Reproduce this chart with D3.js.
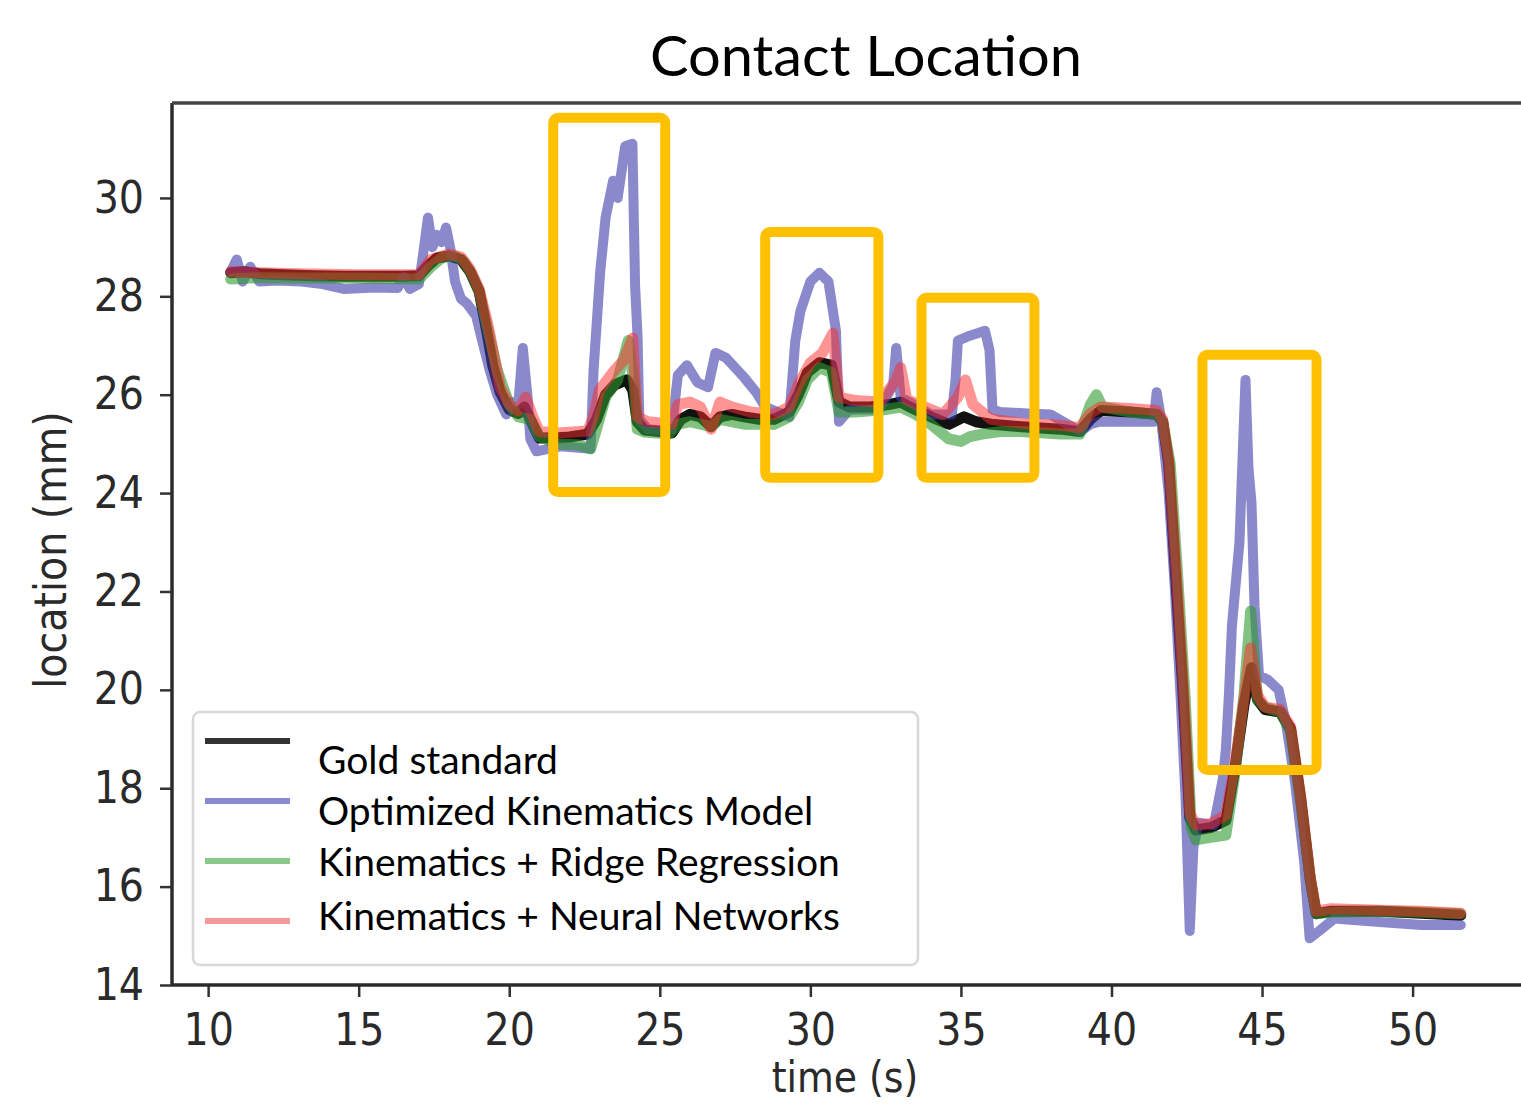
<!DOCTYPE html>
<html><head><meta charset="utf-8">
<script src="https://cdn.jsdelivr.net/npm/d3@7"></script>
<style>
html,body{margin:0;padding:0;background:#fff;}
svg{display:block;}
.tick text{font-family:'DejaVu Sans Condensed','DejaVu Sans',sans-serif;font-stretch:condensed;fill:#2a2a2a;}
</style></head>
<body>
<script>
// ---------- data ----------
const chartTitle = "Contact Location";
const xLabel = "time (s)";
const yLabel = "location (mm)";
const xTicks = [10,15,20,25,30,35,40,45,50];
const yTicks = [14,16,18,20,22,24,26,28,30];
const seriesNames = ["Gold standard","Optimized Kinematics Model","Kinematics + Ridge Regression","Kinematics + Neural Networks"];

const goldStandard = [[10.75,28.48],[11.2,28.5],[11.7,28.46],[12.5,28.44],[13.5,28.42],[14.5,28.41],[15.5,28.41],[16.5,28.41],[17.0,28.42],[17.3,28.62],[17.6,28.78],[18.0,28.82],[18.4,28.75],[18.7,28.5],[19.0,28.1],[19.25,27.3],[19.45,26.6],[19.7,26.05],[20.0,25.7],[20.3,25.62],[20.5,25.75],[20.7,25.5],[21.0,25.12],[21.5,25.12],[22.0,25.14],[22.6,25.2],[22.9,25.5],[23.2,26.0],[23.5,26.2],[23.9,26.3],[24.1,26.1],[24.25,25.45],[24.5,25.28],[25.0,25.25],[25.4,25.22],[25.7,25.5],[26.0,25.6],[26.35,25.55],[26.7,25.35],[27.0,25.55],[27.4,25.6],[27.8,25.55],[28.3,25.5],[28.8,25.5],[29.3,25.65],[29.6,26.0],[29.9,26.45],[30.3,26.65],[30.7,26.6],[30.95,25.85],[31.3,25.75],[32.0,25.75],[32.6,25.8],[33.0,25.85],[33.3,25.75],[34.0,25.55],[34.6,25.4],[35.1,25.55],[35.5,25.45],[36.0,25.4],[37.0,25.35],[38.3,25.3],[38.95,25.25],[39.3,25.5],[39.65,25.68],[40.6,25.65],[41.5,25.6],[41.7,25.45],[41.9,24.6],[42.1,22.6],[42.35,20.2],[42.6,17.4],[42.8,17.15],[43.3,17.2],[43.8,17.35],[44.1,18.4],[44.4,19.7],[44.65,20.45],[44.85,19.8],[45.1,19.6],[45.6,19.55],[45.95,19.2],[46.28,17.8],[46.6,16.15],[46.8,15.45],[47.3,15.5],[48.9,15.5],[50.3,15.46],[51.6,15.42]];

const optimizedKinematics = [[10.75,28.5],[10.95,28.75],[11.15,28.3],[11.4,28.6],[11.7,28.3],[12.3,28.32],[13.1,28.3],[13.8,28.25],[14.5,28.15],[15.5,28.18],[16.3,28.17],[16.5,28.4],[16.7,28.15],[17.0,28.25],[17.15,28.9],[17.3,29.6],[17.45,29.0],[17.6,29.25],[17.75,29.1],[17.9,29.4],[18.05,28.95],[18.2,28.3],[18.4,27.95],[18.6,27.85],[18.9,27.6],[19.1,27.1],[19.35,26.5],[19.6,26.0],[19.9,25.6],[20.1,25.85],[20.3,25.8],[20.45,26.95],[20.6,26.0],[20.7,25.1],[20.9,24.85],[21.7,24.95],[22.7,24.9],[22.8,26.5],[23.02,28.5],[23.2,29.6],[23.45,30.35],[23.6,30.0],[23.85,31.05],[24.09,31.1],[24.18,28.2],[24.26,27.2],[24.32,25.5],[24.6,25.3],[25.0,25.28],[25.4,25.3],[25.6,26.4],[25.9,26.6],[26.25,26.25],[26.6,26.15],[26.85,26.85],[27.2,26.75],[27.8,26.35],[28.2,26.05],[28.5,25.75],[29.3,25.55],[29.5,27.1],[29.67,27.7],[30.0,28.3],[30.3,28.48],[30.6,28.3],[30.85,27.3],[30.95,25.45],[31.3,25.7],[32.3,25.7],[32.75,26.2],[32.85,26.95],[33.0,25.95],[33.3,25.85],[34.0,25.6],[34.7,25.6],[34.82,26.3],[34.9,27.1],[35.3,27.2],[35.8,27.3],[35.95,26.9],[36.05,25.7],[36.3,25.65],[37.2,25.62],[37.97,25.6],[38.97,25.25],[39.3,25.4],[39.6,25.45],[40.6,25.45],[41.4,25.45],[41.5,26.05],[41.65,25.5],[41.9,24.0],[42.1,22.1],[42.3,19.8],[42.46,17.8],[42.6,15.1],[42.72,16.8],[42.9,17.3],[43.4,17.25],[43.7,18.2],[43.8,18.8],[43.9,19.9],[44.0,21.3],[44.25,23.0],[44.45,26.3],[44.55,24.5],[44.65,23.8],[44.75,21.7],[44.9,20.3],[45.2,20.2],[45.55,20.0],[45.8,19.3],[46.1,18.1],[46.4,16.5],[46.58,14.95],[46.9,15.1],[47.4,15.35],[48.9,15.28],[50.3,15.22],[51.6,15.22]];

const ridgeRegression = [[10.75,28.35],[11.7,28.38],[13.0,28.37],[15.0,28.37],[17.0,28.35],[17.4,28.6],[17.8,28.8],[18.2,28.82],[18.5,28.7],[18.75,28.45],[19.0,28.1],[19.3,27.3],[19.6,26.5],[20.0,25.8],[20.3,25.55],[20.7,25.5],[21.0,25.15],[21.6,25.0],[22.3,24.98],[22.7,24.9],[22.9,25.3],[23.2,25.95],[23.6,26.3],[23.95,27.1],[24.15,26.2],[24.25,25.3],[24.5,25.24],[25.3,25.2],[25.6,25.4],[26.0,25.45],[26.7,25.35],[27.0,25.5],[27.8,25.4],[28.8,25.4],[29.3,25.55],[29.6,25.85],[29.9,26.3],[30.3,26.55],[30.7,26.45],[30.95,25.65],[31.5,25.65],[32.5,25.7],[33.0,25.75],[33.5,25.6],[34.0,25.4],[34.6,25.1],[35.0,25.05],[35.3,25.15],[35.7,25.2],[36.3,25.25],[37.0,25.25],[38.3,25.2],[38.95,25.2],[39.3,25.8],[39.5,26.0],[39.7,25.75],[40.6,25.65],[41.5,25.6],[41.7,25.45],[41.95,24.6],[42.2,22.3],[42.45,19.8],[42.65,17.2],[42.8,16.95],[43.3,17.0],[43.8,17.05],[44.1,18.3],[44.4,19.9],[44.62,21.6],[44.85,19.8],[45.1,19.65],[45.6,19.55],[45.95,19.15],[46.28,17.75],[46.6,16.15],[46.8,15.45],[47.3,15.48],[48.9,15.5],[50.3,15.48],[51.6,15.45]];

const neuralNetworks = [[10.75,28.5],[11.7,28.48],[13.0,28.46],[15.0,28.44],[17.0,28.44],[17.4,28.75],[18.0,28.86],[18.4,28.8],[18.7,28.55],[19.0,28.15],[19.3,27.4],[19.7,26.15],[20.0,25.8],[20.3,25.67],[20.55,25.95],[20.75,25.6],[21.0,25.25],[21.6,25.22],[22.6,25.26],[22.8,25.55],[23.0,26.1],[23.5,26.5],[23.8,26.7],[24.1,27.15],[24.25,25.55],[24.6,25.45],[25.4,25.4],[25.6,25.8],[26.0,25.85],[26.35,25.75],[26.7,25.3],[27.0,25.85],[27.4,25.75],[28.0,25.65],[28.8,25.6],[29.3,25.75],[29.6,26.2],[30.0,26.65],[30.4,26.85],[30.75,27.25],[30.95,25.95],[31.5,25.88],[32.3,25.85],[32.85,26.3],[33.0,26.55],[33.2,25.9],[33.8,25.75],[34.4,25.6],[34.9,25.95],[35.15,26.3],[35.4,25.8],[36.0,25.5],[37.0,25.42],[38.3,25.38],[38.95,25.33],[39.3,25.62],[39.65,25.75],[40.6,25.72],[41.5,25.68],[41.7,25.5],[41.9,24.65],[42.15,22.4],[42.4,19.9],[42.6,17.5],[42.8,17.25],[43.3,17.28],[43.8,17.45],[44.1,18.5],[44.4,19.8],[44.62,20.85],[44.85,19.9],[45.1,19.65],[45.6,19.6],[45.95,19.25],[46.28,17.85],[46.6,16.2],[46.8,15.5],[47.3,15.55],[48.9,15.52],[50.3,15.5],[51.6,15.46]];

// highlighted regions: [t0, t1, v0, v1]
const highlightBoxes = [[21.46,25.18,24.02,31.63],[28.5,32.26,24.31,29.31],[33.69,37.44,24.31,27.97],[43.02,46.81,18.37,26.81]];

// ---------- layout ----------
const W = 1521, H = 1106;
const M = {left:172, right:0, top:103, bottom:H-985};
const svg = d3.select("body").append("svg").attr("width",W).attr("height",H);

const x = d3.scaleLinear().domain([8.8,53.6]).range([M.left, W-M.right]);
const y = d3.scaleLinear().domain([14,31.93]).range([H-M.bottom, M.top]);

svg.append("defs").append("clipPath").attr("id","plotclip")
  .append("rect").attr("x",M.left).attr("y",M.top).attr("width",W-M.left).attr("height",H-M.bottom-M.top);

const colors = ["#111111","#3a3aa8","#2e9a2e","#ff2a2a"];
const opac = [1,0.6,0.6,0.5];
const widths = [11,10,11,11];
const legendColors = ["#333333","#8a8ad0","#88c888","#f49a9a"];
const seriesData = [goldStandard, optimizedKinematics, ridgeRegression, neuralNetworks];

const line = d3.line().x(d=>x(d[0])).y(d=>y(d[1])).curve(d3.curveLinear);
const plot = svg.append("g").attr("clip-path","url(#plotclip)");
seriesData.forEach((s,i)=>{
  plot.append("path").datum(s).attr("d",line)
    .attr("fill","none").attr("stroke",colors[i]).attr("stroke-opacity",opac[i])
    .attr("stroke-width",widths[i]).attr("stroke-linejoin","round").attr("stroke-linecap","round");
});

// axes
const tickFont = 44;
const gx = svg.append("g").attr("transform",`translate(0,${H-M.bottom})`)
  .call(d3.axisBottom(x).tickValues(xTicks).tickSize(12).tickPadding(16).tickFormat(d3.format("d")));
const gy = svg.append("g").attr("transform",`translate(${M.left},0)`)
  .call(d3.axisLeft(y).tickValues(yTicks).tickSize(12).tickPadding(16).tickFormat(d3.format("d")));
[gx,gy].forEach(g=>{
  g.select(".domain").remove();
  g.selectAll(".tick line").attr("stroke","#333").attr("stroke-width",2.5);
  g.selectAll(".tick text").style("font-size",tickFont+"px");
});
gx.selectAll(".tick text").attr("dy","0.72em");

// spines
svg.append("line").attr("x1",M.left).attr("x2",M.left).attr("y1",M.top).attr("y2",H-M.bottom)
  .attr("stroke","#2b2b2b").attr("stroke-width",3.5);
svg.append("line").attr("x1",M.left).attr("x2",W).attr("y1",H-M.bottom).attr("y2",H-M.bottom)
  .attr("stroke","#2b2b2b").attr("stroke-width",3.5);
svg.append("line").attr("x1",M.left).attr("x2",W).attr("y1",M.top).attr("y2",M.top)
  .attr("stroke","#444").attr("stroke-width",3.5);

// axis labels
svg.append("text").text(xLabel).attr("x",845).attr("y",1092).attr("text-anchor","middle")
  .style("font-family","'DejaVu Sans Condensed','DejaVu Sans',sans-serif").style("font-stretch","condensed")
  .style("font-size","42px").attr("fill","#2a2a2a");
svg.append("text").text(yLabel).attr("transform","translate(66,550) rotate(-90)").attr("text-anchor","middle")
  .style("font-family","'DejaVu Sans Condensed','DejaVu Sans',sans-serif").style("font-stretch","condensed")
  .style("font-size","44px").attr("fill","#2a2a2a");

// title
svg.append("text").text(chartTitle).attr("x",866).attr("y",76).attr("text-anchor","middle")
  .style("font-family","Lato, 'Open Sans', sans-serif").style("font-size","56px").attr("fill","#000")
  .attr("textLength",432).attr("lengthAdjust","spacingAndGlyphs");

// legend
const lg = svg.append("g");
lg.append("rect").attr("x",193).attr("y",712).attr("width",725).attr("height",253).attr("rx",7)
  .attr("fill","#fff").attr("fill-opacity",0.9).attr("stroke","#d8d8d8").attr("stroke-width",2.5);
const legendLineY = [741,801,861,921];
const legendTextY = [774,825,876,930];
seriesNames.forEach((n,i)=>{
  lg.append("line").attr("x1",205).attr("x2",290).attr("y1",legendLineY[i]).attr("y2",legendLineY[i])
    .attr("stroke",legendColors[i]).attr("stroke-width",6);
  lg.append("text").text(n).attr("x",318).attr("y",legendTextY[i])
    .style("font-family","Lato, 'Open Sans', sans-serif").style("font-size","39px").attr("fill","#000");
});

// highlight boxes
svg.append("g").selectAll("rect").data(highlightBoxes).join("rect")
  .attr("x",d=>x(d[0])).attr("y",d=>y(d[3]))
  .attr("width",d=>x(d[1])-x(d[0])).attr("height",d=>y(d[2])-y(d[3]))
  .attr("rx",5).attr("fill","none").attr("stroke","#FFC000").attr("stroke-width",10);
</script>
</body></html>
